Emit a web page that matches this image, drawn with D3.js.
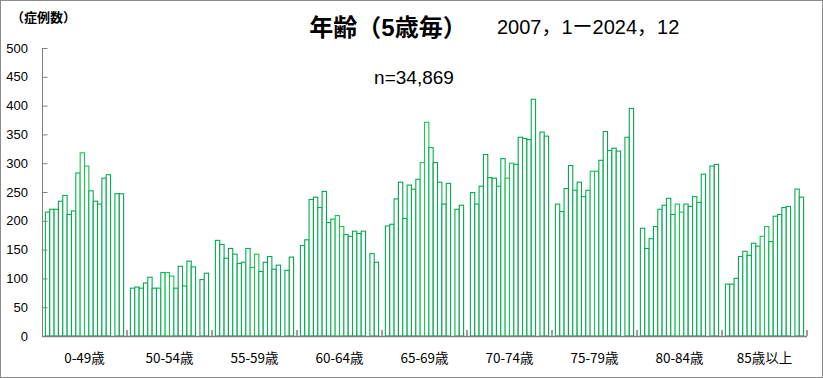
<!DOCTYPE html>
<html>
  <head>
    <meta charset="utf-8">
    <title>年齢（5歳毎）</title>
    <style>
    body { margin: 0; background: #fff; }
    svg text { font-family: "Liberation Sans", Arial, "Noto Sans CJK JP", sans-serif; }
    .axis path, .axis line { stroke: #808080; }
    </style>
    <script src="https://d3js.org/d3.v7.min.js"></script>
  </head>
  <body>
    <svg id="chart"></svg>
    <script>
      // age groups on the x axis
      var groups = ["0-49歳", "50-54歳", "55-59歳", "60-64歳", "65-69歳", "70-74歳", "75-79歳", "80-84歳", "85歳以上"];
      // one bar per year inside each group (slot 16 is empty in the chart)
      var years = d3.range(2007, 2025);

      // case counts per group, 2007..2024
      var g0049 = [215, 220, 220, 234, 244, 211, 217, 283, 318, 295, 252, 234, 229, 274, 280, null, 247, 247];
      var g5054 = [83, 85, 83, 92, 102, 83, 83, 110, 110, 104, 83, 121, 87, 130, 120, null, 98, 109];
      var g5559 = [166, 159, 135, 152, 142, 126, 128, 152, 119, 142, 112, 128, 138, 116, 123, null, 114, 137];
      var g6064 = [157, 167, 237, 241, 223, 251, 197, 203, 209, 190, 176, 173, 182, 178, 182, null, 143, 128];
      var g6569 = [191, 194, 238, 267, 204, 262, 255, 272, 301, 371, 327, 301, 267, 229, 265, null, 220, 227];
      var g7074 = [249, 229, 260, 315, 275, 274, 260, 308, 274, 300, 298, 345, 343, 341, 411, null, 354, 347];
      var g7579 = [229, 216, 256, 296, 253, 267, 242, 253, 286, 286, 305, 355, 322, 326, 321, null, 345, 395];
      var g8084 = [187, 152, 169, 190, 220, 227, 239, 211, 229, 215, 229, 225, 242, 232, 281, null, 295, 298];
      var g85 = [90, 90, 100, 138, 147, 140, 161, 156, 173, 190, 164, 208, 211, 223, 225, null, 255, 241];
      var groupValues = [g0049, g5054, g5559, g6064, g6569, g7074, g7579, g8084, g85];

      // outline colour per year
      var yearColors = ["#00b050", "#00a84f", "#00b050", "#10a050", "#00b050", "#00a84f", "#00b050", "#00b050",
                        "#18c450", "#18c450", "#00b050", "#10a050", "#00b050", "#00a84f", "#00b050", "#00b050",
                        "#00b050", "#10a050"];

      var yTicks = d3.range(0, 501, 50);

      var width = 823, height = 378;
      var svg = d3.select("#chart").attr("width", width).attr("height", height);

      // outer frame
      svg.append("rect")
        .attr("x", 0.5).attr("y", 0.5)
        .attr("width", width - 1).attr("height", height - 1)
        .attr("fill", "#fff").attr("stroke", "#8c8c8c");

      var x0 = d3.scaleBand().domain(groups).range([42, 807]);
      var x1 = d3.scaleBand().domain(years).range([3.4, x0.bandwidth() - 3.4]);
      var y = d3.scaleLinear().domain([0, 500]).range([336, 48]);

      // bars
      var gBars = svg.append("g");
      groups.forEach(function(g, i) {
        var data = years.map(function(yr, k) { return {year: yr, k: k, v: groupValues[i][k]}; })
          .filter(function(d) { return d.v != null; });
        gBars.append("g")
          .attr("transform", "translate(" + x0(g) + ",0)")
          .selectAll("rect")
          .data(data)
          .enter().append("rect")
            .attr("x", function(d) { return x1(d.year); })
            .attr("y", function(d) { return y(d.v); })
            .attr("width", x1.bandwidth())
            .attr("height", function(d) { return y(0) - y(d.v); })
            .attr("fill", "#fff")
            .attr("stroke", function(d) { return yearColors[d.k]; })
            .attr("stroke-width", 1.1);
      });

      // y axis, ticks pointing inward
      var yAxis = svg.append("g")
        .attr("class", "axis")
        .attr("transform", "translate(42.5,0)")
        .call(d3.axisRight(y).tickValues(yTicks).tickSize(5).tickFormat(""));
      yAxis.select(".domain").attr("d", "M0," + y(500) + "V" + y(0));

      svg.append("g").selectAll("text")
        .data(yTicks)
        .enter().append("text")
          .attr("x", 28)
          .attr("y", function(d) { return y(d); })
          .attr("dy", "0.36em")
          .attr("text-anchor", "end")
          .style("font-size", "13px")
          .attr("fill", "#000")
          .text(function(d) { return d; });

      // x axis with boundary ticks
      svg.append("line")
        .attr("x1", 42).attr("x2", 807)
        .attr("y1", 336.5).attr("y2", 336.5)
        .attr("stroke", "#808080").attr("stroke-width", 1.5);
      svg.append("g").selectAll("line")
        .data(groups)
        .enter().append("line")
          .attr("x1", function(d) { return x0(d) + x0.bandwidth(); })
          .attr("x2", function(d) { return x0(d) + x0.bandwidth(); })
          .attr("y1", 336).attr("y2", 330)
          .attr("stroke", "#808080").attr("stroke-width", 1.5);

      svg.append("g").selectAll("text")
        .data(groups)
        .enter().append("text")
          .attr("x", function(d) { return x0(d) + x0.bandwidth() / 2; })
          .attr("y", 363)
          .attr("text-anchor", "middle")
          .style("font-family", "'Liberation Sans Narrow', 'Noto Sans CJK JP', sans-serif")
          .style("font-size", "13.5px")
          .attr("fill", "#000")
          .text(function(d) { return d; });

      // titles
      svg.append("text")
        .attr("x", 11).attr("y", 22)
        .style("font-family", "'Noto Sans CJK JP', sans-serif")
        .style("font-size", "13px").style("font-weight", "bold")
        .text("（症例数）");

      svg.append("text")
        .attr("x", 388).attr("y", 36)
        .attr("text-anchor", "middle")
        .style("font-family", "'Liberation Sans', 'Noto Sans CJK JP', sans-serif")
        .style("font-size", "24px").style("font-weight", "bold")
        .text("年齢（5歳毎）");

      svg.append("text")
        .attr("x", 497).attr("y", 34)
        .style("font-family", "'Liberation Sans', 'Noto Sans CJK JP', sans-serif")
        .style("font-size", "20px")
        .text("2007，1ー2024，12");

      svg.append("text")
        .attr("x", 414).attr("y", 84)
        .attr("text-anchor", "middle")
        .style("font-size", "19px")
        .text("n=34,869");
    </script>
  </body>
</html>
